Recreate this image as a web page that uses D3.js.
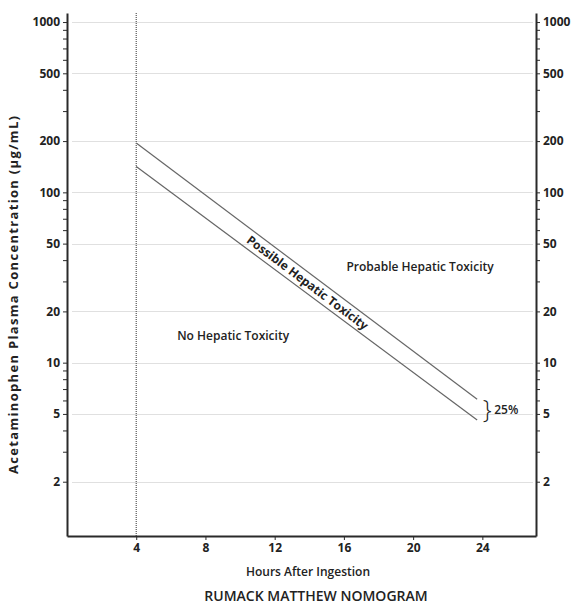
<!DOCTYPE html>
<meta charset="utf-8">
<style>
body { margin: 0; background: #fff; }
text { font-family: "Open Sans", "DejaVu Sans", sans-serif; fill: #222; }
.grid line { stroke: #e0e0e0; stroke-width: 1; }
.axis path, .axis line { stroke: #2a2a2a; }
.axis path { stroke-width: 2; }
.axis text { font-size: 12px; font-weight: bold; fill: #222; }
.nomo { fill: none; stroke: #666; stroke-width: 1.2px; }
</style>
<body>
<script src="https://d3js.org/d3.v7.min.js"></script>
<script>

// chart values
var hourTicks = [4, 8, 12, 16, 20, 24];
var concMajor = [2, 5, 10, 20, 50, 100, 200, 500, 1000];
var concMinor = [3, 4, 6, 7, 8, 9, 30, 40, 60, 70, 80, 90, 300, 400, 600, 700, 800, 900];
var lineHours = [4, 23.7];
var upperConc = [195, 6.1];   // probable toxicity line
var lowerConc = [142, 4.6];   // 25% lower line
var markerHour = 4;

var width = 575, height = 605;
var plotLeft = 67, plotRight = 536, plotTop = 13, plotBottom = 536;

var svg = d3.select("body").append("svg")
    .attr("width", width)
    .attr("height", height);

// set the ranges
var x = d3.scaleLinear().domain([0, 27.1]).range([plotLeft, plotRight]);
var y = d3.scaleLog().domain([0.96, 1130]).range([plotBottom, plotTop]);

// light grid lines
svg.append("g").attr("class", "grid")
  .selectAll("line")
  .data(concMajor)
  .enter().append("line")
    .attr("x1", plotLeft + 5)
    .attr("x2", plotRight - 3)
    .attr("y1", function(d) { return Math.round(y(d)) + 0.5; })
    .attr("y2", function(d) { return Math.round(y(d)) + 0.5; });

// dotted line at 4 hours
svg.append("line")
    .attr("x1", x(markerHour)).attr("x2", x(markerHour))
    .attr("y1", plotTop).attr("y2", plotBottom)
    .style("stroke", "#555")
    .style("stroke-width", 1.2)
    .style("stroke-dasharray", "1,1");

// the two nomogram lines
var line = d3.line()
    .x(function(d) { return x(d[0]); })
    .y(function(d) { return y(d[1]); });

svg.append("path").attr("class", "nomo")
    .attr("d", line(d3.zip(lineHours, upperConc)));
svg.append("path").attr("class", "nomo")
    .attr("d", line(d3.zip(lineHours, lowerConc)));

// axes
var fmt = d3.format("d");
svg.append("g").attr("class", "axis")
    .attr("transform", "translate(" + plotLeft + ",0)")
    .call(d3.axisLeft(y).tickValues(concMajor).tickFormat(fmt).tickSize(4).tickSizeOuter(0));
svg.append("g").attr("class", "axis")
    .attr("transform", "translate(" + plotRight + ",0)")
    .call(d3.axisRight(y).tickValues(concMajor).tickFormat(fmt).tickSize(4).tickSizeOuter(0));
svg.append("g").attr("class", "axis minor")
    .attr("transform", "translate(" + plotLeft + ",0)")
    .call(d3.axisLeft(y).tickValues(concMinor).tickFormat("").tickSize(4).tickSizeOuter(0));
svg.append("g").attr("class", "axis minor")
    .attr("transform", "translate(" + plotRight + ",0)")
    .call(d3.axisRight(y).tickValues(concMinor).tickFormat("").tickSize(4).tickSizeOuter(0));
svg.selectAll(".minor path").remove();

svg.append("g").attr("class", "axis")
    .attr("transform", "translate(0," + plotBottom + ")")
    .call(d3.axisBottom(x).tickValues(hourTicks).tickFormat(fmt).tickSize(4).tickSizeOuter(0));

// zone labels
svg.append("text")
    .attr("x", x(9.6)).attr("y", y(10) - 23)
    .attr("text-anchor", "middle")
    .style("font-size", "12px").style("font-weight", "600")
    .text("No Hepatic Toxicity");

svg.append("text")
    .attr("x", x(20.4)).attr("y", y(50) + 27)
    .attr("text-anchor", "middle")
    .style("font-size", "12px").style("font-weight", "600")
    .text("Probable Hepatic Toxicity");

// rotated label between the lines
var midH = 13.9;
var t = (midH - lineHours[0]) / (lineHours[1] - lineHours[0]);
var midUpper = Math.exp(d3.interpolate(Math.log(upperConc[0]), Math.log(upperConc[1]))(t));
var midLower = Math.exp(d3.interpolate(Math.log(lowerConc[0]), Math.log(lowerConc[1]))(t));
var midC = Math.sqrt(midUpper * midLower);
var angle = Math.atan2(y(upperConc[1]) - y(upperConc[0]), x(lineHours[1]) - x(lineHours[0])) * 180 / Math.PI;
svg.append("text")
    .attr("transform", "translate(" + x(midH) + "," + y(midC) + ") rotate(" + angle + ")")
    .attr("text-anchor", "middle")
    .attr("dy", "0.35em")
    .style("font-size", "12px").style("font-weight", "bold")
    .text("Possible Hepatic Toxicity");

// 25% bracket
var braceC = Math.sqrt(upperConc[1] * lowerConc[1]);
svg.append("text")
    .attr("x", x(lineHours[1]) + 10).attr("y", y(braceC))
    .attr("text-anchor", "middle")
    .attr("dy", "0.33em")
    .style("font-size", "25px").style("font-weight", "300")
    .text("}");
svg.append("text")
    .attr("x", x(lineHours[1]) + 17).attr("y", y(braceC))
    .attr("dy", "0.35em")
    .style("font-size", "12px").style("font-weight", "600")
    .text("25%");

// axis titles
svg.append("text")
    .attr("transform", "translate(18,295) rotate(-90)")
    .attr("text-anchor", "middle")
    .attr("textLength", 358)
    .attr("lengthAdjust", "spacing")
    .style("font-size", "13px").style("font-weight", "bold")
    .text("Acetaminophen Plasma Concentration (µg/mL)");

svg.append("text")
    .attr("x", 308).attr("y", 576)
    .attr("text-anchor", "middle")
    .style("font-size", "12px").style("font-weight", "600")
    .text("Hours After Ingestion");

svg.append("text")
    .attr("x", 316).attr("y", 601)
    .attr("text-anchor", "middle")
    .style("font-size", "14px").style("font-weight", "600")
    .text("RUMACK MATTHEW NOMOGRAM");

</script>
</body>
